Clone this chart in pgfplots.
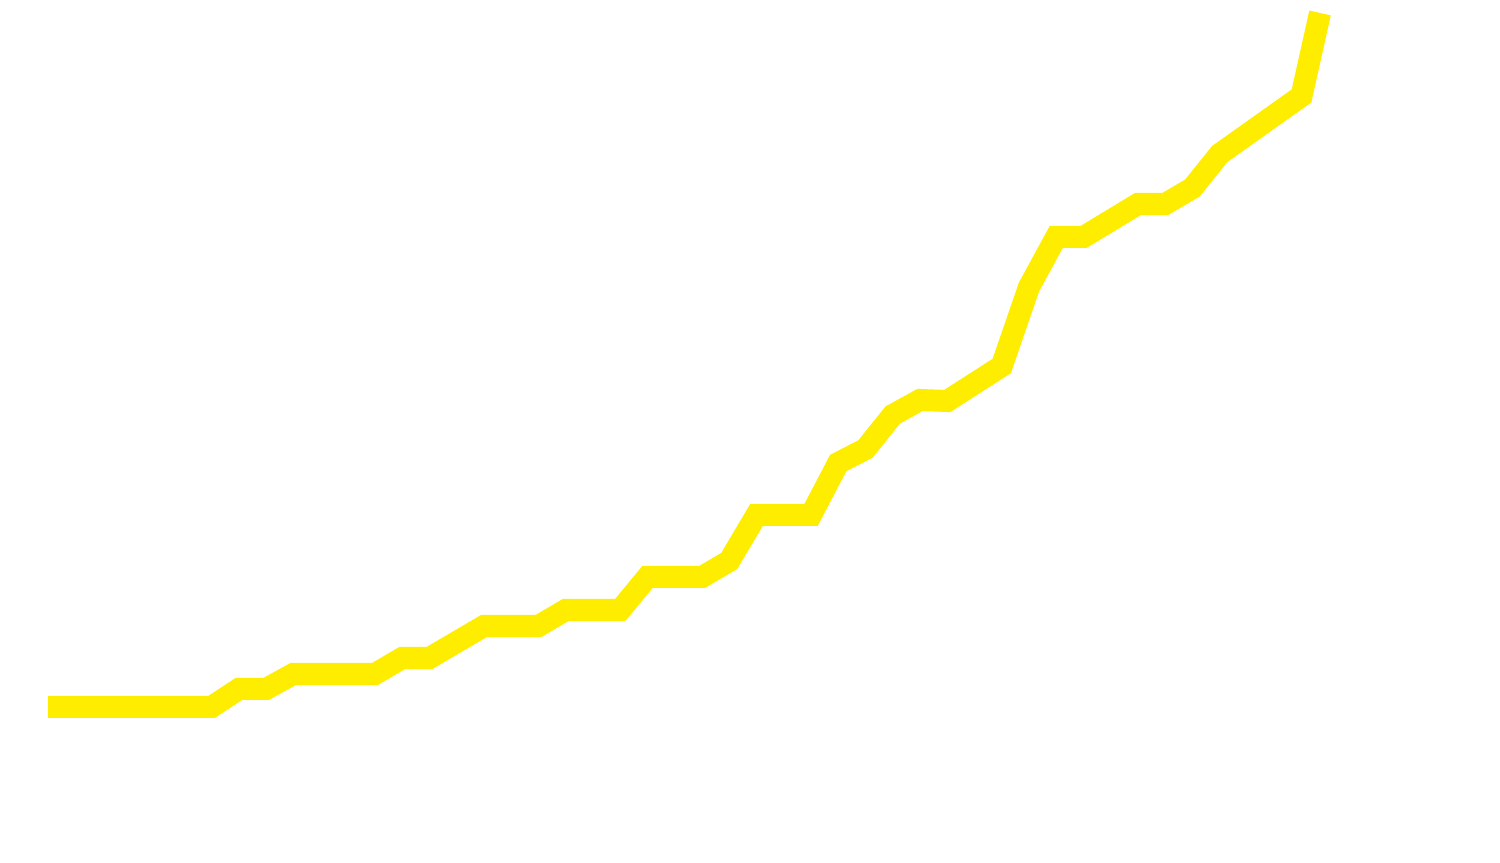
\documentclass[border=0pt]{standalone}
\usepackage{pgfplots}
\pgfplotsset{compat=1.18}
\definecolor{lineyellow}{HTML}{FFED00}
\begin{document}
\begin{tikzpicture}
\begin{axis}[
  width=750bp, height=431.5bp, scale only axis,
  hide axis,
  xmin=-1.7615, xmax=53.284,
  ymin=-156, ymax=707,
  clip=true,
]
\addplot[lineyellow, line width=11bp, line join=miter, line cap=butt, mark=none] coordinates {
(0,0) (1,0) (2,0) (3,0) (4,0) (5,0) (6,0)
(7,18) (8,18)
(9,33) (10,33) (11,33) (12,33)
(13,49) (14,49)
(15,65) (16,81) (17,81) (18,81)
(19,97) (20,97) (21,97)
(22,130) (23,130) (24,130)
(25,146) (26,192) (27,192) (28,192)
(29,244) (30,258) (31,292) (32,307) (33,306)
(34,323.5) (35,341) (36,420) (37,470) (38,470)
(39,486.5) (40,503) (41,503) (42,519) (43,553)
(44,572.3) (45,591.7) (46,611) (46.68,694)
};
\end{axis}
\pgfresetboundingbox
\path[use as bounding box] (current axis.south west) rectangle (current axis.north east);
\end{tikzpicture}
\end{document}
